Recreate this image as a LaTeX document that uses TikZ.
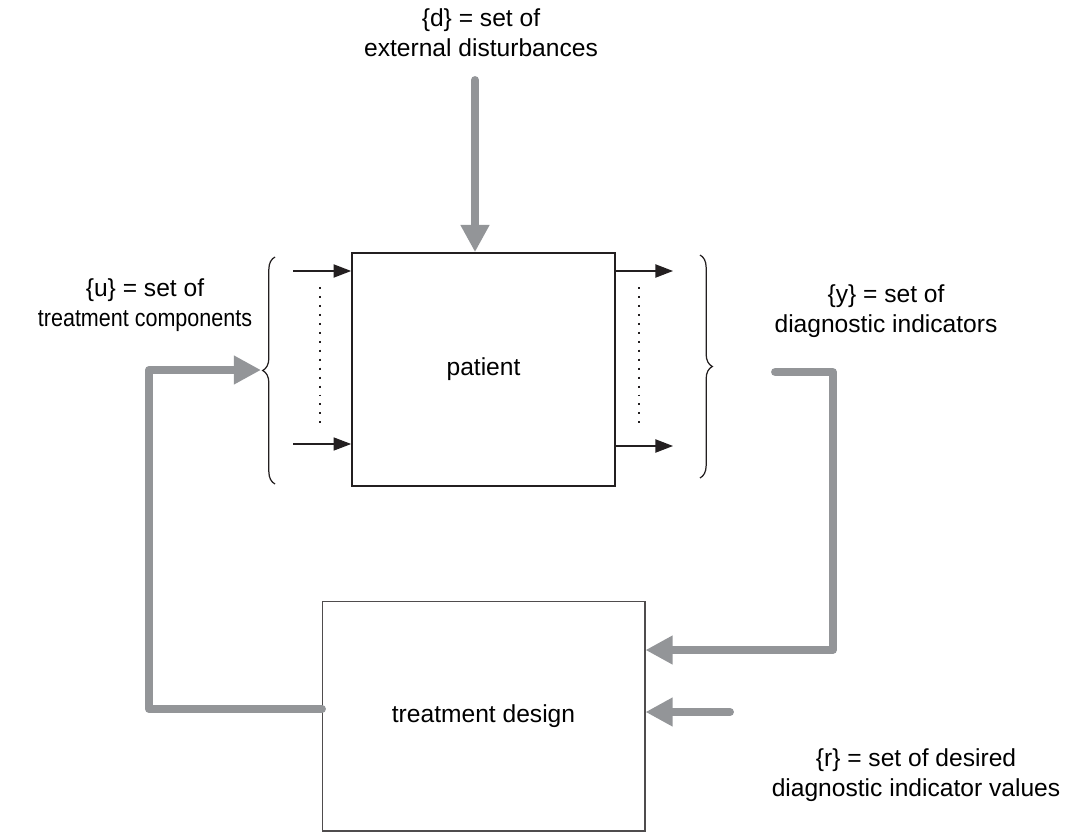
\documentclass[tikz,border=0pt]{standalone}
\usepackage{fontspec}
\setmainfont{Liberation Sans}
\usetikzlibrary{arrows.meta, positioning, decorations.pathreplacing}
\definecolor{arrowgray}{RGB}{147,149,152}
\definecolor{inkblack}{RGB}{35,31,32}

\begin{document}
\begin{tikzpicture}[x=0.02cm, y=-0.02cm,
    every node/.style={font=\fontsize{14}{17}\selectfont, inner sep=0pt},
    feedback/.style={draw=arrowgray, line width=4.5pt, line cap=round, line join=round,
      -{Triangle[length=15.5pt, width=15.5pt]}},
    signal/.style={draw=inkblack, line width=0.8pt, -{Triangle[length=10pt, width=7.5pt]}},
    dots/.style={draw=inkblack, line width=1.4pt, dash pattern=on 1.1pt off 4pt},
    bracket/.style={draw=inkblack, line width=0.7pt, decorate, decoration={brace, amplitude=7pt}}]

    \useasboundingbox (0,0) rectangle (1069,835);

    % Draw the boxes
    \node[draw=inkblack, line width=1pt, minimum width=5.26cm, minimum height=4.66cm] (patient) at (483.5,369.5) {patient};
    \node[draw=inkblack!80, line width=0.6pt, minimum width=6.46cm, minimum height=4.6cm] (design) at (483.5,716) {treatment design};

    % Labels
    \node[align=center] (dlabel) at (481,33) {\{d\} = set of\\external disturbances};
    \node[align=center] (ulabel) at (145,305) {\{u\} = set of\\\scalebox{0.875}[1]{treatment components}};
    \node[align=center] (ylabel) at (886,311) {\{y\} = set of\\diagnostic indicators};
    \node[align=center] (rlabel) at (916,775) {\{r\} = set of desired\\diagnostic indicator values};

    % Free ends of the connectors
    \coordinate (dtail) at (475,80);
    \coordinate (in1) at (293,271);
    \coordinate (in2) at (293,444);
    \coordinate (out1) at (673,271);
    \coordinate (out2) at (673,446);
    \coordinate (utip) at (261,370);
    \coordinate (uout) at (322,709);
    \coordinate (yout) at (775,372);
    \coordinate (rtail) at (730,712);

    % Disturbances entering the patient
    \draw[feedback] (dtail) -- (dtail |- patient.north);

    % Draw the wires entering and exiting the patient
    \draw[signal] (in1) -- (in1 -| patient.west);
    \draw[signal, line width=0.6pt] (in2) -- (in2 -| patient.west);
    \draw[signal] (out1 -| patient.east) -- (out1);
    \draw[signal] (out2 -| patient.east) -- (out2);
    \draw[dots] (320,287) -- (320,427);
    \draw[dots] (639,287) -- (639,427);

    % Braces round the inputs and outputs
    \draw[bracket] (275,484) -- (275,257);
    \draw[bracket] (700,255) -- (700,478);

    % Feedback loop
    \draw[feedback] (uout) -| (149,370) -- (utip);
    \draw[feedback] (yout) -| (833,650) -- ([yshift=1.32cm]design.east);
    \draw[feedback] (rtail) -- (rtail -| design.east);

\end{tikzpicture}
\end{document}
